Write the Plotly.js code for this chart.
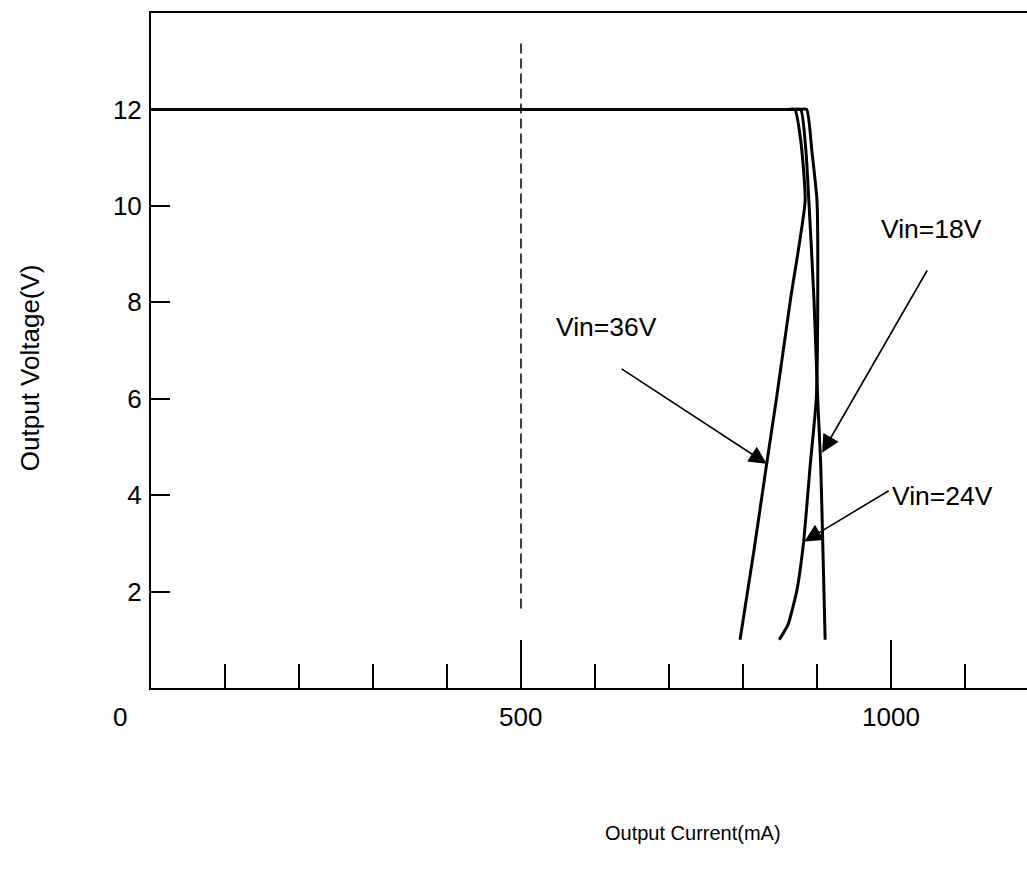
<!DOCTYPE html>
<html>
<head>
<meta charset="utf-8">
<script src="https://cdn.plot.ly/plotly-3.0.1.min.js"></script>
<style>html,body{margin:0;padding:0;background:#fff;}#chart{width:1027px;height:873px;}</style>
</head>
<body>
<div id="chart"></div>
<script>
// Output current (mA) vs output voltage (V)
const vin36_x = [0, 860, 870, 878, 884, 864, 845, 832, 815, 796];
const vin36_y = [12, 12, 12, 11.36, 10.11, 8.04, 5.98, 4.65, 2.87, 1.0];
const vin18_x = [0, 868, 878, 885, 889, 896, 901, 905, 908, 911];
const vin18_y = [12, 12, 12, 11.15, 10.11, 8.04, 5.98, 4.65, 2.87, 1.0];
const vin24_x = [0, 876, 886, 893, 900, 901, 899, 891, 882, 873, 861, 849];
const vin24_y = [12, 12, 12, 11.15, 10.11, 8.04, 5.98, 4.65, 3.04, 2.04, 1.32, 1.0];
const refLineX = [500, 500];
const refLineY = [1.65, 13.4];
const xTickLabels = [0, 500, 1000];
const yTickVals = [2, 4, 6, 8, 10, 12];
const seriesNames = ["Vin=36V", "Vin=18V", "Vin=24V"];

const font = "Liberation Sans, Arial, sans-serif";
const lineStyle = {color: "#000", width: 3, shape: "spline", smoothing: 0.5};

const traces = [
  {x: vin36_x, y: vin36_y, mode: "lines", line: lineStyle, name: seriesNames[0]},
  {x: vin18_x, y: vin18_y, mode: "lines", line: lineStyle, name: seriesNames[1]},
  {x: vin24_x, y: vin24_y, mode: "lines", line: lineStyle, name: seriesNames[2]},
  {x: refLineX, y: refLineY, mode: "lines", line: {color: "#000", width: 1.5, dash: "10px,5px"}, name: "ref"}
];

const annotations = [];
// x tick labels
xTickLabels.forEach(v => annotations.push({
  x: v, y: 0, xref: "x", yref: "paper", yshift: -46, xshift: v === 0 ? -31 : 0,
  text: String(v), showarrow: false, font: {family: font, size: 26, color: "#000"}
}));
// series labels
const labelPos = [[616, 7.49], [1055, 9.51], [1070, 3.99]];
seriesNames.forEach((n, i) => annotations.push({
  x: labelPos[i][0], y: labelPos[i][1], xref: "x", yref: "y", text: n, showarrow: false,
  font: {family: font, size: 26.5, color: "#000"}
}));
// arrows
const arrows = [[634, 6.64, 832, 4.65], [1050, 8.69, 907, 4.88], [999, 4.11, 883, 3.04]];
arrows.forEach(a => annotations.push({
  x: a[2], y: a[3], ax: a[0], ay: a[1], xref: "x", yref: "y", axref: "x", ayref: "y",
  text: "", showarrow: true, arrowhead: 2, arrowsize: 2.2, arrowwidth: 1.6, arrowcolor: "#000"
}));
// axis titles
annotations.push({x: -0.138, y: 0.474, xref: "paper", yref: "paper", xanchor: "center", yanchor: "middle",
  text: "Output Voltage(V)", textangle: -90,
  showarrow: false, font: {family: font, size: 26, color: "#000"}});
annotations.push({x: 0.619, y: -0.2148, xref: "paper", yref: "paper", xanchor: "center", yanchor: "middle",
  text: "Output Current(mA)",
  showarrow: false, font: {family: font, size: 20, color: "#000"}});

const layout = {
  width: 1027, height: 873,
  margin: {l: 151, r: 0, t: 13, b: 185, pad: 0},
  paper_bgcolor: "#fff", plot_bgcolor: "#fff",
  showlegend: false,
  font: {family: font, size: 26, color: "#000"},
  xaxis: {
    range: [0, 1183.8], showgrid: false, zeroline: false,
    showline: true, linecolor: "#000", linewidth: 2, mirror: true,
    tickvals: [500, 1000], ticks: "inside", ticklen: 48, tickwidth: 2, tickcolor: "#000",
    showticklabels: false,
    minor: {dtick: 100, tick0: 0, ticks: "inside", ticklen: 24, tickwidth: 2, tickcolor: "#000", showgrid: false}
  },
  yaxis: {
    range: [0, 14], showgrid: false, zeroline: false,
    showline: true, linecolor: "#000", linewidth: 2,
    tickvals: yTickVals, ticks: "inside", ticklen: 19, tickwidth: 2, tickcolor: "#000",
    ticklabelstandoff: 2, tickfont: {family: font, size: 26, color: "#000"}
  },
  annotations: annotations
};

Plotly.newPlot("chart", traces, layout, {staticPlot: true, displayModeBar: false});
</script>
</body>
</html>
